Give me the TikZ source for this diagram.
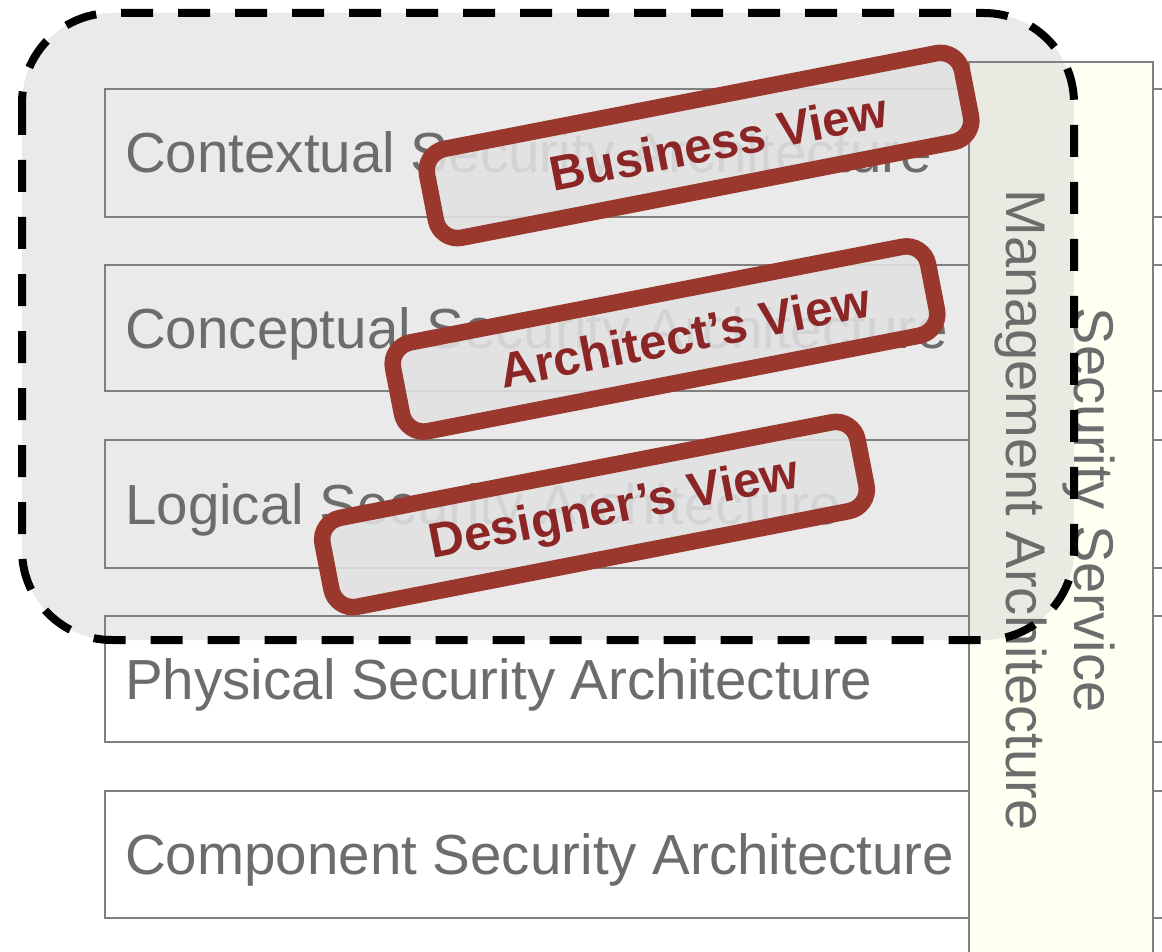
\documentclass[tikz,border=0pt]{standalone}
\usepackage{fontspec}
\setmainfont{Liberation Sans}
\definecolor{boxline}{RGB}{128,128,128}
\definecolor{boxtext}{RGB}{108,108,108}
\definecolor{ivory}{RGB}{255,255,242}
\definecolor{viewred}{RGB}{155,56,45}
\definecolor{viewtext}{RGB}{140,38,38}
\definecolor{viewfill}{RGB}{226,226,226}
\newcommand{\tagtext}[1]{\hspace*{40pt}#1}
\tikzset{
  layerfill/.style={fill=white},
  layerline/.style={draw=boxline, line width=1.5pt},
  layertext/.style={anchor=base west, inner sep=0pt, text=boxtext,
    font=\fontsize{56.5}{68}\selectfont},
  sidebox/.style={draw=boxline, line width=1.5pt, fill=ivory},
  groupfill/.style={fill=black!20, fill opacity=0.4, rounded corners=90pt},
  groupline/.style={draw=black, line width=8pt, dash pattern=on 32pt off 25pt,
    rounded corners=90pt},
  viewtag/.style={draw=viewred, line width=16.5pt, fill=viewfill, fill opacity=0.88,
    text opacity=1, draw opacity=1, text=viewtext, rounded corners=22pt,
    minimum width=545pt, minimum height=90.5pt, inner sep=0pt, rotate=11,
    font=\bfseries\fontsize{49}{56}\selectfont}
}
\begin{document}
\begin{tikzpicture}[x=1pt,y=-1pt]
\useasboundingbox (0,0) rectangle (1162,952);
\clip (0,0) rectangle (1162,952);
\fill[white] (0,0) rectangle (1162,952);

% white layer boxes, left column and the neighbouring column
\foreach \t/\b in {89/217,265/391,440/568,616/742,791/918}{
  \fill[layerfill] (105,\t) rectangle (969,\b);
  \fill[layerfill] (1153,\t) rectangle (1260,\b);
}
% vertical management column
\fill[ivory] (969,62) rectangle (1153,1000);

% grey backdrop of the upper three layers
\path[groupfill] (22,13) rectangle (1074,640);

% layer outlines and titles
\foreach \t/\b/\name/\txt in {
  89/217/ctx/Contextual Security Architecture,
  265/391/cpt/Conceptual Security Architecture,
  440/568/lgc/Logical Security Architecture,
  616/742/phy/Physical Security Architecture,
  791/918/cmp/Component Security Architecture}{
  \draw[layerline] (105,\t) rectangle (969,\b);
  \draw[layerline] (1153,\t) rectangle (1260,\b);
  \node[layertext] (\name) at (125,{(\t+\b)/2+20}) {\txt};
}
\draw[layerline] (969,62) rectangle (1153,1000);
\node[rotate=-90, align=center, inner sep=0pt, text=boxtext,
  font=\fontsize{56}{68}\selectfont] (mgmt) at (1055,510)
  {Security Service\\Management Architecture};

% dashed outline of the group
\path[groupline] (22,13) rectangle (1074,640);

% view tags
\node[viewtag] (business) at (699,145.5) {\tagtext{Business View}};
\node[viewtag] (architect) at (665,339) {\tagtext{Architect’s View}};
\node[viewtag] (designer) at (594.5,514.5) {\tagtext{Designer’s View}};
\end{tikzpicture}
\end{document}
